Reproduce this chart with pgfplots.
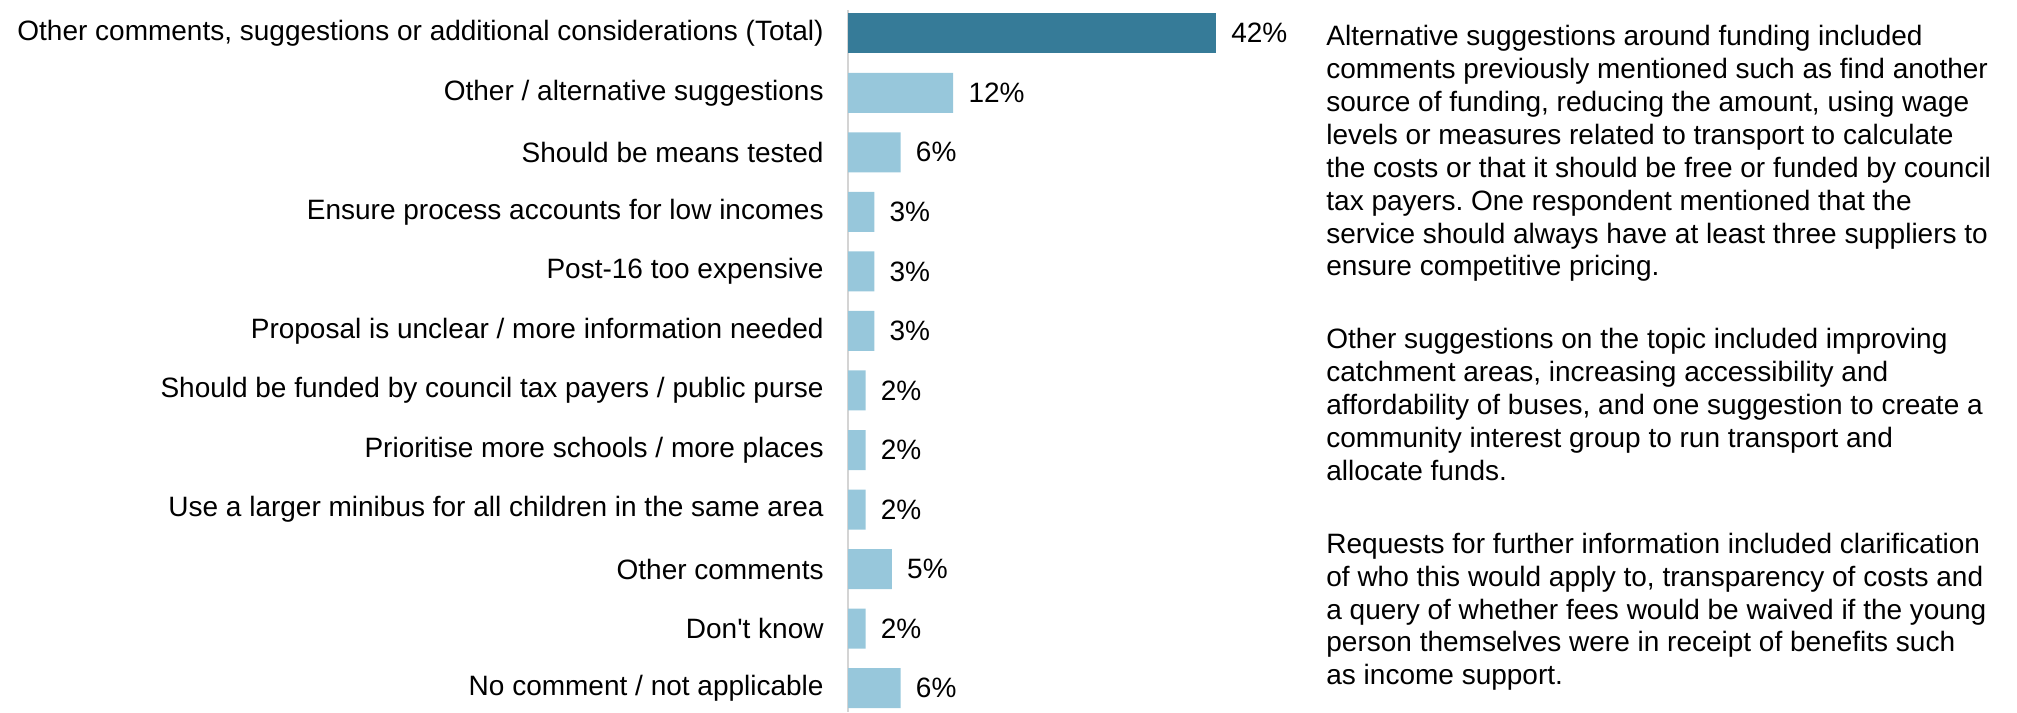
\documentclass[border=0pt]{standalone}
\usepackage{fontspec}
\setmainfont{Liberation Sans}
\usepackage{pgfplots}
\pgfplotsset{compat=1.18}
\frenchspacing

\definecolor{darkbar}{HTML}{367B98}
\definecolor{lightbar}{HTML}{97C7DB}
\definecolor{axisgray}{HTML}{D4D4D4}

% 1 px of the reference = 0.5pt
\newcommand{\labfont}{\fontsize{14}{16.8}\selectfont}
\newcommand{\valfont}{\fontsize{14}{16.8}\selectfont}
\newcommand{\notefont}{\fontsize{14}{16.45}\selectfont}

\begin{document}
\begin{tikzpicture}
\path[use as bounding box] (0,0) rectangle (1008.5pt,356pt);

\begin{axis}[
  at={(424pt,0pt)}, anchor=south west,
  scale only axis,
  width=219pt, height=351pt,
  xmin=0, xmax=50,
  ymin=-0.39, ymax=11.4,
  y dir=reverse,
  xbar, bar width=20pt, bar shift=0pt,
  axis x line=none,
  axis y line*=left,
  axis line style={draw=axisgray, line width=0.6pt, -},
  ytick={0,...,11},
  yticklabels={
    {Other comments, suggestions or additional considerations (Total)},
    {Other / alternative suggestions},
    {Should be means tested},
    {Ensure process accounts for low incomes},
    {Post-16 too expensive},
    {Proposal is unclear / more information needed},
    {Should be funded by council tax payers / public purse},
    {Prioritise more schools / more places},
    {Use a larger minibus for all children in the same area},
    {Other comments},
    {Don\textquotesingle t know},
    {No comment / not applicable}},
  major tick length=0pt,
  yticklabel style={font=\labfont, anchor=east, inner sep=0pt, xshift=-12pt},
  point meta=x,
  /pgf/number format/assume math mode=true,
  nodes near coords={\pgfmathprintnumber{\pgfplotspointmeta}\%},
  nodes near coords style={font=\valfont, anchor=west, inner sep=0pt, xshift=7.5pt},
]
\addplot[fill=darkbar, draw=none] coordinates {(42,0)};
\addplot[fill=lightbar, draw=none] coordinates {
  (12,1) (6,2) (3,3) (3,4) (3,5) (2,6) (2,7) (2,8) (5,9) (2,10) (6,11)
};
\end{axis}

\node[anchor=north west, align=left, inner sep=0pt, font=\notefont] at (663pt,343.5pt)
  {Alternative suggestions around funding included\\
   comments previously mentioned such as find another\\
   source of funding, reducing the amount, using wage\\
   levels or measures related to transport to calculate\\
   the costs or that it should be free or funded by council\\
   tax payers. One respondent mentioned that the\\
   service should always have at least three suppliers to\\
   ensure competitive pricing.};
\node[anchor=north west, align=left, inner sep=0pt, font=\notefont] at (663pt,192pt)
  {Other suggestions on the topic included improving\\
   catchment areas, increasing accessibility and\\
   affordability of buses, and one suggestion to create a\\
   community interest group to run transport and\\
   allocate funds.};
\node[anchor=north west, align=left, inner sep=0pt, font=\notefont] at (663pt,89.7pt)
  {Requests for further information included clarification\\
   of who this would apply to, transparency of costs and\\
   a query of whether fees would be waived if the young\\
   person themselves were in receipt of benefits such\\
   as income support.};
\end{tikzpicture}
\end{document}
